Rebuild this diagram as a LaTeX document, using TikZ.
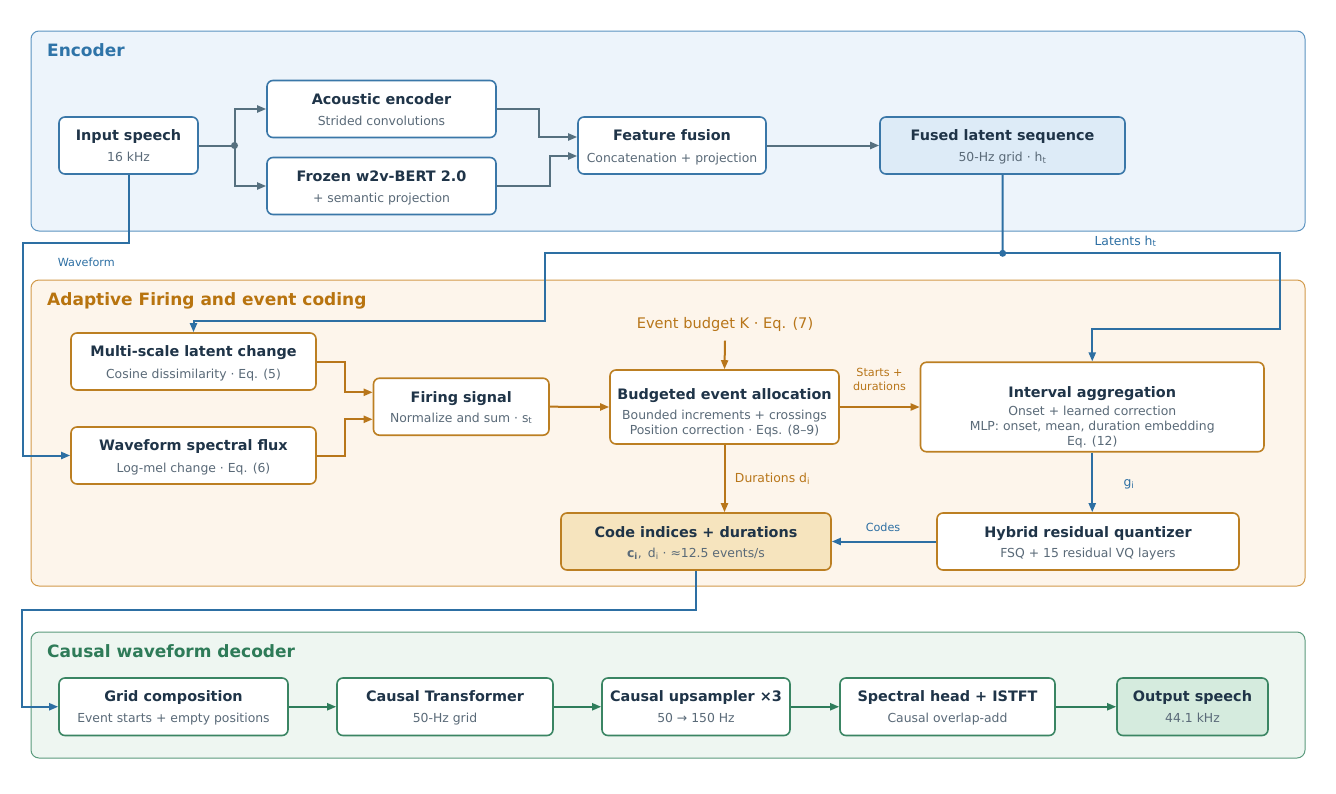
\documentclass[tikz,border=0pt]{standalone}
\usepackage{fontspec}
\setmainfont{DejaVu Sans}
\usetikzlibrary{arrows.meta,calc}
\definecolor{encF}{HTML}{EDF4FB}
\definecolor{encB}{HTML}{5B93C0}
\definecolor{encT}{HTML}{2F74A8}
\definecolor{encN}{HTML}{3A77A8}
\definecolor{fusF}{HTML}{DDEBF7}
\definecolor{grayA}{HTML}{56707F}
\definecolor{blueA}{HTML}{2D6FA3}
\definecolor{adF}{HTML}{FDF5EB}
\definecolor{adB}{HTML}{D29A4A}
\definecolor{adT}{HTML}{B8740F}
\definecolor{adN}{HTML}{BC7F22}
\definecolor{orA}{HTML}{B8761A}
\definecolor{codeF}{HTML}{F6E4BE}
\definecolor{decF}{HTML}{EEF6F1}
\definecolor{decB}{HTML}{5A9A7C}
\definecolor{decT}{HTML}{2E7B58}
\definecolor{decN}{HTML}{3A8563}
\definecolor{greenA}{HTML}{2E7D5B}
\definecolor{outF}{HTML}{D5EBDE}
\definecolor{tDark}{HTML}{1F3448}
\definecolor{tSub}{HTML}{5A6A78}
\begin{document}
\begin{tikzpicture}[x=1pt,y=-1pt,
  panel/.style={rounded corners=8pt, line width=1pt, inner sep=0pt},
  blk/.style={rounded corners=6pt, line width=1.6pt, fill=white, inner sep=0pt},
  ttl/.style={anchor=base, text=tDark, font=\fontsize{14.4}{17}\selectfont\bfseries, inner sep=0pt},
  sub/.style={anchor=base, text=tSub, font=\fontsize{12.4}{15}\selectfont, inner sep=0pt},
  sec/.style={anchor=base west, font=\fontsize{17}{20}\selectfont\bfseries, inner sep=0pt},
  lbl/.style={anchor=base, font=\fontsize{11.2}{13.5}\selectfont, inner sep=0pt},
  lblm/.style={anchor=base, font=\fontsize{12.4}{15}\selectfont, inner sep=0pt},
  arr/.style={line width=2pt, -{Triangle[length=9pt,width=7pt]}},
  dot/.style={circle, inner sep=0pt, minimum size=7pt},
]
\useasboundingbox (0,0) rectangle (1336,793);

% ---------- panels
\node[panel, draw=encB, fill=encF, minimum width=1274pt, minimum height=200pt] (encp) at (668,131) {};
\node[panel, draw=adB, fill=adF, minimum width=1274pt, minimum height=306pt] (adp) at (668,433) {};
\node[panel, draw=decB, fill=decF, minimum width=1274pt, minimum height=126pt] (decp) at (668,695) {};
\node[sec, text=encT] (encs) at (47,56) {Encoder};
\node[sec, text=adT] (ads) at (47,305.5) {Adaptive Firing and event coding};
\node[sec, text=decT] (decs) at (47,657) {Causal waveform decoder};

% ---------- encoder
\node[blk, draw=encN, minimum width=139pt, minimum height=57pt] (in) at (128.5,145.5) {};
\node[ttl] (in-t) at (128.5,140) {Input speech};
\node[sub] (in-s) at (128.5,161.5) {16 kHz};

\node[blk, draw=encN, minimum width=229pt, minimum height=57pt] (ae) at (381.5,109) {};
\node[ttl] (ae-t) at (381.5,104.5) {Acoustic encoder};
\node[sub] (ae-s) at (381.5,125.5) {Strided convolutions};

\node[blk, draw=encN, minimum width=229pt, minimum height=57pt] (fz) at (381.5,186) {};
\node[ttl] (fz-t) at (381.5,181.7) {Frozen w2v-BERT 2.0};
\node[sub] (fz-s) at (381.5,202) {+ semantic projection};

\node[blk, draw=encN, minimum width=188pt, minimum height=57pt] (ff) at (672,145.5) {};
\node[ttl] (ff-t) at (672,140) {Feature fusion};
\node[sub] (ff-s) at (672,162) {Concatenation + projection};

\node[blk, draw=encN, fill=fusF, minimum width=245pt, minimum height=57pt] (fl) at (1002.5,145.5) {};
\node[ttl] (fl-t) at (1002.5,140) {Fused latent sequence};
\node[sub] (fl-s) at (1002.5,161.5) {50-Hz grid · h\textsubscript{t}};

\node[dot, fill=grayA] (j1) at (234.5,145.5) {};
\draw[grayA, line width=2pt] (in.east) -- (j1.center);
\draw[grayA, arr] (j1.center) |- (ae.west);
\draw[grayA, arr] (j1.center) |- (fz.west);
\draw[grayA, arr] (ae.east) -- ++(42,0) |- ($(ff.west)+(0,-8.5)$);
\draw[grayA, arr] (fz.east) -- ++(53,0) |- ($(ff.west)+(0,10.5)$);
\draw[grayA, arr] (ff.east) -- (fl.west);

% ---------- adaptive
\node[blk, draw=adN, minimum width=245pt, minimum height=57pt] (ms) at (193.5,361.5) {};
\node[ttl] (ms-t) at (193.5,356.7) {Multi-scale latent change};
\node[sub] (ms-s) at (193.5,378.3) {Cosine dissimilarity · Eq. (5)};

\node[blk, draw=adN, minimum width=245pt, minimum height=57pt] (wsf) at (193.5,455.5) {};
\node[ttl] (wsf-t) at (193.5,450.7) {Waveform spectral flux};
\node[sub] (wsf-s) at (193.5,472.3) {Log-mel change · Eq. (6)};

\node[blk, draw=adN, minimum width=175.5pt, minimum height=57pt] (fs) at (461.25,406.7) {};
\node[ttl] (fs-t) at (461.25,402) {Firing signal};
\node[sub] (fs-s) at (461.25,422) {Normalize and sum · s\textsubscript{t}};

\node[blk, draw=adN, minimum width=229pt, minimum height=74pt] (be) at (724.5,407) {};
\node[ttl] (be-t) at (724.5,399) {Budgeted event allocation};
\node[sub] (be-s1) at (724.5,419) {Bounded increments + crossings};
\node[sub] (be-s2) at (724.5,434.5) {Position correction · Eqs. (8–9)};

\node[blk, draw=adN, minimum width=343.5pt, minimum height=89.5pt] (ia) at (1092.25,407) {};
\node[ttl] (ia-t) at (1092.25,397.3) {Interval aggregation};
\node[sub] (ia-s1) at (1092.25,415) {Onset + learned correction};
\node[sub] (ia-s2) at (1092.25,430.3) {MLP: onset, mean, duration embedding};
\node[sub] (ia-s3) at (1092.25,445.7) {Eq. (12)};

\node[blk, draw=adN, minimum width=302pt, minimum height=57pt] (hq) at (1088,541.5) {};
\node[ttl] (hq-t) at (1088,537.3) {Hybrid residual quantizer};
\node[sub] (hq-s) at (1088,557.3) {FSQ + 15 residual VQ layers};

\node[blk, draw=adN, fill=codeF, minimum width=270pt, minimum height=57pt] (ci) at (696,541.5) {};
\node[ttl] (ci-t) at (696,537.3) {Code indices + durations};
\node[sub] (ci-s) at (696,557) {\textbf{c}\textsubscript{\textbf{i}}, \,d\textsubscript{i} · ≈12.5 events/s};

\node[anchor=base, text=orA, font=\fontsize{14.6}{17}\selectfont, inner sep=0pt] (eb) at (725,328.3) {Event budget K · Eq. (7)};

% blue latent routing
\node[dot, fill=blueA] (j2) at (1002.7,253.3) {};
\draw[blueA, line width=2pt] (fl.south) -- (j2.center);
\draw[blueA, arr] (j2.center) -- ++(-457.7,0) -- ++(0,67.7) -| (ms.north);
\draw[blueA, arr] (j2.center) -- ++(277.6,0) -- ++(0,75.7) -| (ia.north);
\node[lblm, text=blueA] (lat) at (1125.5,245) {Latents h\textsubscript{t}};
\draw[blueA, arr] (in.south) -- ++(0,67.7) -- ++(-106,0) |- (wsf.west);
\node[lbl, text=blueA] (wav) at (86.3,266.7) {Waveform};

% orange connectors
\draw[orA, arr] (ms.east) -- ++(28.5,0) |- ($(fs.west)+(0,-14.4)$);
\draw[orA, arr] (wsf.east) -- ++(28.5,0) |- ($(fs.west)+(0,12.6)$);
\draw[orA, arr] (fs.east) -- (be.west);
\draw[orA, arr] ($(eb.south)+(0,9)$) -- (be.north);
\draw[orA, arr] (be.east) -- (ia.west);
\node[lbl, text=orA] (st1) at (879.5,376.7) {Starts +};
\node[lbl, text=orA] (st2) at (879.5,390.7) {durations};
\draw[orA, arr] (be.south) -- (be.south |- ci.north);
\node[lblm, text=orA] (dur) at (772.5,482) {Durations d\textsubscript{i}};

% blue connectors
\draw[blueA, arr] (ia.south) -- (ia.south |- hq.north);
\node[lblm, text=blueA] (gi) at (1129,486.5) {g\textsubscript{i}};
\draw[blueA, arr] (hq.west) -- (ci.east);
\node[lbl, text=blueA] (codes) at (883,531) {Codes};

% ---------- decoder
\node[blk, draw=decN, minimum width=229pt, minimum height=57.5pt] (gc) at (173.5,706.75) {};
\node[ttl] (gc-t) at (173.5,701.5) {Grid composition};
\node[sub] (gc-s) at (173.5,722.5) {Event starts + empty positions};

\node[blk, draw=decN, minimum width=216pt, minimum height=57.5pt] (ct) at (445,706.75) {};
\node[ttl] (ct-t) at (445,701.5) {Causal Transformer};
\node[sub] (ct-s) at (445,722.5) {50-Hz grid};

\node[blk, draw=decN, minimum width=188pt, minimum height=57.5pt] (cu) at (696,706.75) {};
\node[ttl] (cu-t) at (696,701.5) {Causal upsampler ×3};
\node[sub] (cu-s) at (696,722.5) {50 → 150 Hz};

\node[blk, draw=decN, minimum width=215pt, minimum height=57.5pt] (sh) at (947.5,706.75) {};
\node[ttl] (sh-t) at (947.5,701.5) {Spectral head + ISTFT};
\node[sub] (sh-s) at (947.5,722.5) {Causal overlap-add};

\node[blk, draw=decN, fill=outF, minimum width=151pt, minimum height=57.5pt] (os) at (1192.5,706.75) {};
\node[ttl] (os-t) at (1192.5,701.5) {Output speech};
\node[sub] (os-s) at (1192.5,722.5) {44.1 kHz};

\draw[blueA, arr] (ci.south) -- ++(0,39.5) -- ++(-674,0) |- (gc.west);
\draw[greenA, arr] (gc.east) -- (ct.west);
\draw[greenA, arr] (ct.east) -- (cu.west);
\draw[greenA, arr] (cu.east) -- (sh.west);
\draw[greenA, arr] (sh.east) -- (os.west);
\end{tikzpicture}
\end{document}
